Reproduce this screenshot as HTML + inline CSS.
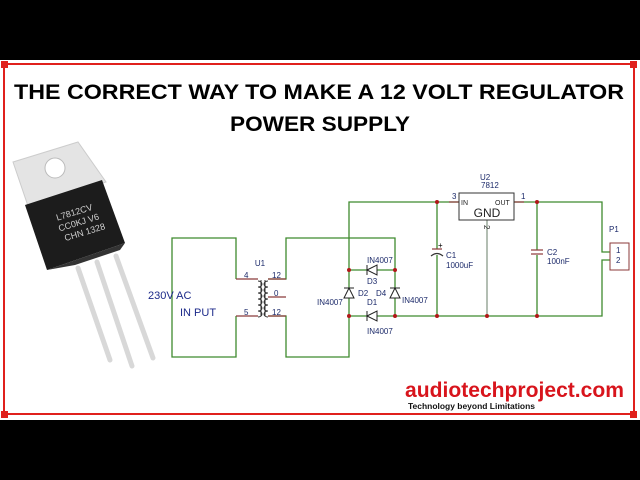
<!DOCTYPE html>
<html><head><meta charset="utf-8"><style>
html,body{margin:0;padding:0;background:#000;}
svg{display:block;}
</style></head><body>
<svg width="640" height="480" viewBox="0 0 640 480" xmlns="http://www.w3.org/2000/svg" font-family="Liberation Sans, sans-serif">
<rect x="0" y="0" width="640" height="480" fill="#000"/>
<rect x="0" y="60" width="640" height="360" fill="#fff"/>
<rect x="4" y="64" width="630" height="350" fill="none" stroke="#e0201c" stroke-width="2"/>
<rect x="1" y="61" width="7" height="7" fill="#e0201c"/><rect x="630" y="61" width="7" height="7" fill="#e0201c"/>
<rect x="1" y="411" width="7" height="7" fill="#e0201c"/><rect x="630" y="411" width="7" height="7" fill="#e0201c"/>

<text x="14" y="99" font-size="21" font-weight="bold" textLength="610" lengthAdjust="spacingAndGlyphs">THE CORRECT WAY TO MAKE A 12 VOLT REGULATOR</text>
<text x="320" y="131" font-size="21" font-weight="bold" text-anchor="middle" textLength="180" lengthAdjust="spacingAndGlyphs">POWER SUPPLY</text>

<!-- transistor -->
<polygon points="13,162 78,142 106,182 28,206" fill="#e4e4e4" stroke="#ccc"/>
<circle cx="55" cy="168" r="10" fill="#fff" stroke="#bbb"/>
<g stroke="#d8d8d8" stroke-width="5" stroke-linecap="round">
<line x1="78" y1="268" x2="110" y2="360"/>
<line x1="97" y1="262" x2="132" y2="366"/>
<line x1="116" y1="256" x2="153" y2="358"/>
</g>
<polygon points="25,205 102,180 125,243 47,270" fill="#1c1c1c"/>
<polygon points="75,265 120,250 125,243 47,270" fill="#333"/>
<g fill="#cfcfcf" font-size="9" transform="rotate(-17 80 220)">
<text x="58" y="214">L7812CV</text><text x="57" y="225">CC0KJ V6</text><text x="60" y="236">CHN 1328</text>
</g>

<!-- wires -->
<g fill="none" stroke="#3f8a2e" stroke-width="1.3">
<polyline points="236,279 236,238 172,238 172,357 236,357 236,316"/>
<polyline points="268,279 286,279 286,238 395,238 395,316 602,316 602,260 610,260"/>
<polyline points="268,316 286,316 286,357 349,357 349,202 459,202"/>
<polyline points="514,202 602,202 602,252 610,252"/>
<line x1="349" y1="270" x2="395" y2="270"/>
<line x1="349" y1="316" x2="395" y2="316"/>
<line x1="437" y1="202" x2="437" y2="249"/><line x1="437" y1="255" x2="437" y2="316"/>
<line x1="537" y1="202" x2="537" y2="250"/><line x1="537" y1="255" x2="537" y2="316"/>
</g>
<line x1="487" y1="220" x2="487" y2="316" stroke="#8a9a8a" stroke-width="1.3"/>
<g stroke="#8b3a3a" stroke-width="1.2">
<line x1="236" y1="279" x2="258" y2="279"/><line x1="236" y1="316" x2="258" y2="316"/>
<line x1="268" y1="279" x2="286" y2="279"/><line x1="268" y1="297" x2="286" y2="297"/><line x1="268" y1="316" x2="286" y2="316"/>
<line x1="449" y1="202" x2="459" y2="202"/><line x1="514" y1="202" x2="524" y2="202"/>
<line x1="432" y1="249" x2="442" y2="249"/>
<line x1="531" y1="250" x2="543" y2="250"/><line x1="531" y1="254" x2="543" y2="254"/>
</g>
<path d="M431,256 Q437,251 443,256" fill="none" stroke="#333" stroke-width="1.2"/>
<text x="438" y="248" font-size="8">+</text>
<!-- transformer coils -->
<g fill="none" stroke="#333" stroke-width="1">
<path d="M258,281 a4,3 0 0 1 0,6 a4,3 0 0 1 0,6 a4,3 0 0 1 0,6 a4,3 0 0 1 0,6 a4,3 0 0 1 0,6 a4,3 0 0 1 0,6"/>
<path d="M268,281 a4,3 0 0 0 0,6 a4,3 0 0 0 0,6 a4,3 0 0 0 0,6 a4,3 0 0 0 0,6 a4,3 0 0 0 0,6 a4,3 0 0 0 0,6"/>
<line x1="261" y1="280" x2="261" y2="316"/><line x1="265" y1="280" x2="265" y2="316"/>
</g>
<!-- diodes -->
<g fill="#fff" stroke="#222" stroke-width="1">
<polygon points="367,270 377,265 377,275"/><line x1="367" y1="265" x2="367" y2="275"/>
<polygon points="367,316 377,311 377,321"/><line x1="367" y1="311" x2="367" y2="321"/>
<polygon points="349,288 344,298 354,298"/><line x1="344" y1="288" x2="354" y2="288"/>
<polygon points="395,288 390,298 400,298"/><line x1="390" y1="288" x2="400" y2="288"/>
</g>
<g fill="#b01818">
<circle cx="349" cy="270" r="2"/><circle cx="395" cy="270" r="2"/><circle cx="349" cy="316" r="2"/><circle cx="395" cy="316" r="2"/>
<circle cx="437" cy="202" r="2"/><circle cx="537" cy="202" r="2"/>
<circle cx="437" cy="316" r="2"/><circle cx="487" cy="316" r="2"/><circle cx="537" cy="316" r="2"/>
</g>
<rect x="459" y="193" width="55" height="27" fill="#fff" stroke="#333"/>
<rect x="610" y="243" width="19" height="27" fill="#fff" stroke="#8b3a3a"/>

<g font-size="8" fill="#1c2a6a">
<text x="260" y="266" text-anchor="middle">U1</text>
<text x="244" y="278">4</text><text x="244" y="315">5</text>
<text x="272" y="278">12</text><text x="274" y="296">0</text><text x="272" y="315">12</text>
<text x="367" y="263">IN4007</text><text x="367" y="334">IN4007</text>
<text x="317" y="305">IN4007</text><text x="402" y="303">IN4007</text>
<text x="367" y="284">D3</text><text x="358" y="296">D2</text><text x="376" y="296">D4</text><text x="367" y="305">D1</text>
<text x="480" y="180">U2</text><text x="481" y="188">7812</text>
<text x="452" y="199">3</text><text x="521" y="199">1</text>
<text x="446" y="258">C1</text><text x="446" y="268">1000uF</text>
<text x="547" y="255">C2</text><text x="547" y="264">100nF</text>
<text x="609" y="232">P1</text><text x="616" y="253">1</text><text x="616" y="263">2</text>
</g>
<text x="484" y="225" font-size="8" fill="#333" transform="rotate(90 484 225)">2</text>
<g font-size="7" fill="#222"><text x="461" y="205">IN</text><text x="495" y="205">OUT</text></g>
<text x="487" y="217" font-size="12" text-anchor="middle" fill="#222">GND</text>
<text x="148" y="299" font-size="11" fill="#1c2a8a">230V AC</text>
<text x="180" y="316" font-size="11" fill="#1c2a8a">IN PUT</text>

<text x="405" y="397" font-size="21" font-weight="bold" fill="#d8141c" textLength="219" lengthAdjust="spacingAndGlyphs">audiotechproject.com</text>
<text x="408" y="409" font-size="8" font-weight="bold" fill="#111" textLength="127" lengthAdjust="spacingAndGlyphs">Technology beyond Limitations</text>
</svg>
</body></html>
